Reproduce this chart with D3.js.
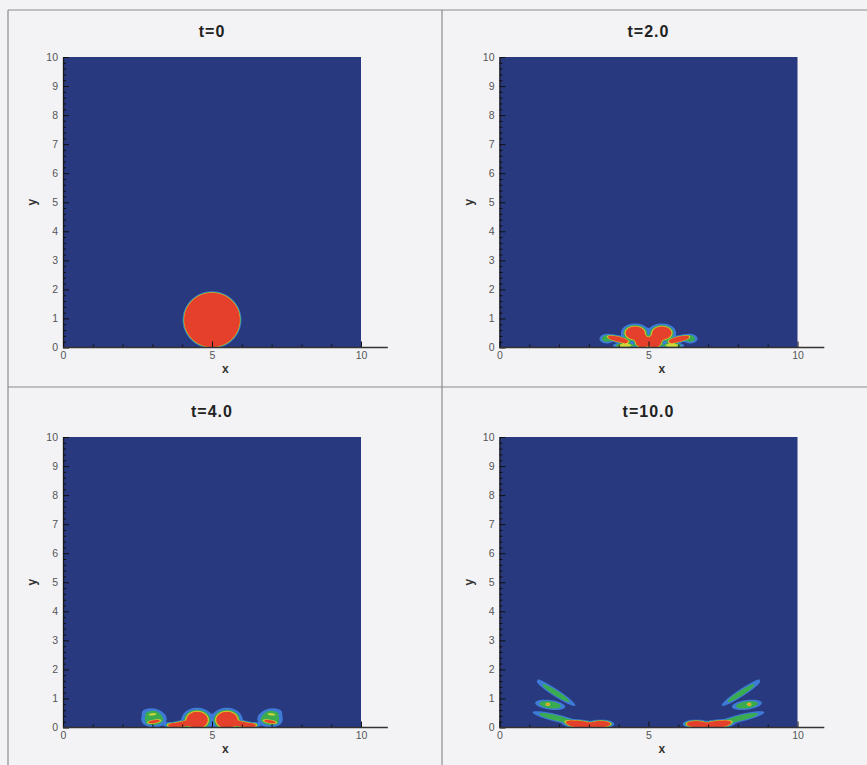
<!DOCTYPE html>
<html><head><meta charset="utf-8">
<script src="https://cdn.jsdelivr.net/npm/d3@7"></script>
<style>body{margin:0;background:#f3f3f5;} svg{display:block}</style>
</head><body><svg id="c" width="867" height="765"></svg>
<script>
// ---------------- data ----------------
const panelTitles = ["t=0", "t=2.0", "t=4.0", "t=10.0"];
const yTickValues = [0, 1, 2, 3, 4, 5, 6, 7, 8, 9, 10];
const xTickValues = [0, 5, 10];
const xMinorTicks = [1, 2, 3, 4, 6, 7, 8, 9];
const yMinorTicks = [0.2,0.4,0.6,0.8,1.2,1.4,1.6,1.8,2.2,2.4,2.6,2.8,3.2,3.4,3.6,3.8,4.2,4.4,4.6,4.8,5.2,5.4,5.6,5.8,6.2,6.4,6.6,6.8,7.2,7.4,7.6,7.8,8.2,8.4,8.6,8.8,9.2,9.4,9.6,9.8];
// contour levels of the volume fraction field and their fill colours
const levels = [0.06, 0.3, 0.55, 0.7, 0.8];
const levelColors = ["#3e7bd6", "#3aab4e", "#cfd63a", "#ec8a2a", "#e4402b"];
const backgroundColor = "#29397f";

// blobs: [cx, cy, rx, ry, angleDeg, peak, sharpness]
const blobsT0 = [
  [5.0, 0.95, 0.95, 0.95, 0, 1, 40]
];
const blobsT2 = [
  [4.55, 0.50, 0.36, 0.25, 0, 1, 5],
  [4.80, 0.20, 0.25, 0.22, 0, 1, 5],
  [4.00, 0.28, 0.36, 0.10, -15, 1, 5],
  [3.60, 0.30, 0.20, 0.13, 0, 0.35, 4],
  [4.20, 0.07, 0.30, 0.07, 0, 0.6, 4],
  [5.45, 0.50, 0.36, 0.25, 0, 1, 5],
  [5.20, 0.20, 0.25, 0.22, 0, 1, 5],
  [6.00, 0.28, 0.36, 0.10, 15, 1, 5],
  [6.40, 0.30, 0.20, 0.13, 0, 0.35, 4],
  [5.80, 0.07, 0.30, 0.07, 0, 0.6, 4]
];
const blobsT4 = [
  [4.50, 0.26, 0.40, 0.32, 0, 1, 5],
  [3.95, 0.11, 0.38, 0.10, 8, 0.9, 5],
  [3.62, 0.09, 0.16, 0.07, 0, 0.6, 4],
  [3.05, 0.30, 0.34, 0.24, 0, 0.42, 4],
  [3.05, 0.20, 0.24, 0.06, 10, 0.45, 4],
  [2.95, 0.52, 0.26, 0.12, 0, 0.2, 4],
  [5.50, 0.26, 0.40, 0.32, 0, 1, 5],
  [6.05, 0.11, 0.38, 0.10, -8, 0.9, 5],
  [6.38, 0.09, 0.16, 0.07, 0, 0.6, 4],
  [6.95, 0.30, 0.34, 0.24, 0, 0.42, 4],
  [6.95, 0.20, 0.24, 0.06, -10, 0.45, 4],
  [7.05, 0.52, 0.26, 0.12, 0, 0.2, 4]
];
const blobsT10 = [
  [2.70, 0.11, 0.48, 0.13, -5, 1, 6],
  [3.40, 0.12, 0.36, 0.12, 0, 0.95, 6],
  [1.90, 0.33, 0.64, 0.10, -14, 0.45, 4],
  [1.70, 0.78, 0.40, 0.13, -8, 0.45, 4],
  [1.62, 0.80, 0.07, 0.05, 0, 0.3, 3],
  [1.90, 1.17, 0.62, 0.09, -33, 0.38, 4],
  [1.80, 1.32, 0.58, 0.06, -33, 0.12, 4],
  [7.30, 0.11, 0.48, 0.13, 5, 1, 6],
  [6.60, 0.12, 0.36, 0.12, 0, 0.95, 6],
  [8.10, 0.33, 0.64, 0.10, 14, 0.45, 4],
  [8.30, 0.78, 0.40, 0.13, 8, 0.45, 4],
  [8.38, 0.80, 0.07, 0.05, 0, 0.3, 3],
  [8.10, 1.17, 0.62, 0.09, 33, 0.38, 4],
  [8.20, 1.32, 0.58, 0.06, 33, 0.12, 4]
];
const panelBlobs = [blobsT0, blobsT2, blobsT4, blobsT10];

// ---------------- drawing ----------------
const W = 867, H = 765;
const svg = d3.select("#c");
svg.append("rect").attr("width", W).attr("height", H).attr("fill", "#f3f3f5");

const frame = svg.append("g").attr("stroke", "#8c8c8c").attr("stroke-width", 1.2);
frame.append("line").attr("x1", 8).attr("x2", W).attr("y1", 10).attr("y2", 10);
frame.append("line").attr("x1", 8).attr("x2", 8).attr("y1", 10).attr("y2", H);
frame.append("line").attr("x1", 442).attr("x2", 442).attr("y1", 10).attr("y2", H);
frame.append("line").attr("x1", 8).attr("x2", W).attr("y1", 387).attr("y2", 387);

function field(blobs, px, py) {
  let v = 0;
  for (const b of blobs) {
    const [cx, cy, rx, ry, ang, pk, s] = b;
    const a = ang * Math.PI / 180, ca = Math.cos(a), sa = Math.sin(a);
    const dx = px - cx, dy = py - cy;
    const u = (dx * ca + dy * sa) / rx;
    const w = (-dx * sa + dy * ca) / ry;
    const d2 = u * u + w * w;
    v += pk / (1 + Math.pow(d2, s));
  }
  return Math.min(1, v);
}

const cols = [63, 499.5], rows = [57, 437];
const pw = 298, ph = 290.5;
const tickFont = "'Liberation Sans', Arial, sans-serif";

panelTitles.forEach((title, i) => {
  const left = cols[i % 2], top = rows[Math.floor(i / 2)];
  const x = d3.scaleLinear().domain([0, 10]).range([left, left + pw]);
  const y = d3.scaleLinear().domain([0, 10]).range([top + ph, top]);
  const g = svg.append("g");

  g.append("rect").attr("x", x(0)).attr("y", y(10))
    .attr("width", x(10) - x(0)).attr("height", y(0) - y(10))
    .attr("fill", backgroundColor);

  const nx = 500, ny = 125, ymax = 2.5;
  const vals = new Float64Array(nx * ny);
  for (let j = 0; j < ny; j++) {
    const yv = (j + 0.5) * ymax / ny;
    for (let k = 0; k < nx; k++) {
      const xv = (k + 0.5) * 10 / nx;
      vals[j * nx + k] = field(panelBlobs[i], xv, yv);
    }
  }
  const cont = d3.contours().size([nx, ny]).thresholds(levels)(vals);
  const proj = d3.geoTransform({
    point: function (px, py) { this.stream.point(x(px * 10 / nx), y(py * ymax / ny)); }
  });
  const path = d3.geoPath(proj);
  g.selectAll("path.band").data(cont).join("path")
    .attr("class", "band").attr("d", path)
    .attr("fill", (d, k) => levelColors[k]);

  const yAxis = d3.axisLeft(y).tickValues(yTickValues)
    .tickSizeInner(-6).tickSizeOuter(0).tickPadding(5);
  const ya = g.append("g").attr("transform", `translate(${x(0)},0)`).call(yAxis);
  const yMinor = d3.axisLeft(y).tickValues(yMinorTicks)
    .tickSizeInner(-3).tickSizeOuter(0).tickFormat("");
  const ym = g.append("g").attr("transform", `translate(${x(0)},0)`).call(yMinor);
  ym.select(".domain").remove();

  const xAxis = d3.axisBottom(x).tickValues(xTickValues)
    .tickSizeInner(-6).tickSizeOuter(0).tickPadding(4);
  const xa = g.append("g").attr("transform", `translate(0,${y(0)})`).call(xAxis);
  xa.select(".domain").remove();
  const xMinor = d3.axisBottom(x).tickValues(xMinorTicks)
    .tickSizeInner(-3).tickSizeOuter(0).tickFormat("");
  const xm = g.append("g").attr("transform", `translate(0,${y(0)})`).call(xMinor);
  xm.select(".domain").remove();
  g.append("line").attr("x1", x(0)).attr("x2", x(10.9))
    .attr("y1", y(0)).attr("y2", y(0))
    .attr("stroke", "#333").attr("stroke-width", 1.5);

  [ya, ym, xa, xm].forEach(a => {
    a.selectAll(".domain").attr("stroke", "#1a1a1a").attr("stroke-width", 1.3);
    a.selectAll(".tick line").attr("stroke", "#111").attr("stroke-width", 1);
    a.selectAll(".tick text").attr("fill", "#555")
      .style("font-family", tickFont).style("font-size", "10.5px");
  });

  g.append("text").attr("x", (x(0) + x(10)) / 2).attr("y", top - 20)
    .attr("text-anchor", "middle")
    .style("font-family", tickFont).style("font-size", "16px")
    .style("font-weight", "bold").style("letter-spacing", "1px")
    .attr("fill", "#222").text(title);

  g.append("text").attr("x", x(5.45)).attr("y", y(0) + 25)
    .attr("text-anchor", "middle")
    .style("font-family", tickFont).style("font-size", "12px").style("font-weight", "bold")
    .attr("fill", "#333").text("x");
  g.append("text")
    .attr("transform", `translate(${x(0) - 27},${y(5)}) rotate(-90)`)
    .attr("text-anchor", "middle")
    .style("font-family", tickFont).style("font-size", "12px").style("font-weight", "bold")
    .attr("fill", "#333").text("y");
});
</script>
</body></html>
